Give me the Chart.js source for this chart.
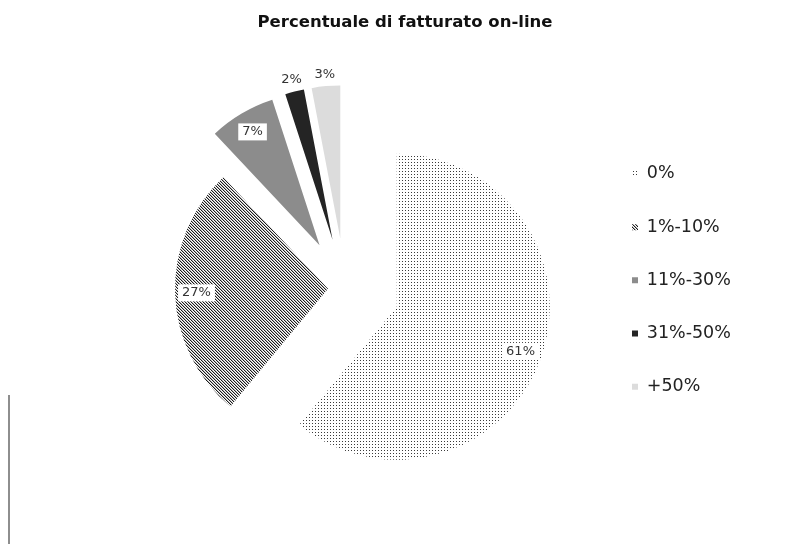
<!DOCTYPE html>
<html>
<head>
<meta charset="utf-8">
<title>Percentuale di fatturato on-line</title>
<script src="https://cdn.jsdelivr.net/npm/chart.js@4.4.1/dist/chart.umd.min.js"></script>
<style>
  html, body { margin: 0; padding: 0; background: #fff; }
  #wrap { position: relative; width: 795px; height: 544px; overflow: hidden; }
  #edge { position: absolute; left: 8px; top: 395px; bottom: 0; width: 2px; background: #8e8e8e; }
</style>
</head>
<body>
<div id="wrap">
  <canvas id="fatturato" width="795" height="544"></canvas>
  <div id="edge"></div>
</div>
<script>
// share of online turnover, by bracket
const categories = ['0%', '1%-10%', '11%-30%', '31%-50%', '+50%'];
const shares = [61, 27, 7, 2, 3];
// how far each slice is pulled out of the pie, px
const explode = [55, 17, 50, 50, 50];

const FONT = '"DejaVu Sans", "Liberation Sans", Arial, sans-serif';

const canvas = document.getElementById('fatturato');
const ctx = canvas.getContext('2d');

// small repeating tiles for the two textured slices
function makePattern(size, paint) {
    const tile = document.createElement('canvas');
    tile.width = tile.height = size;
    const g = tile.getContext('2d');
    g.fillStyle = '#ffffff';
    g.fillRect(0, 0, size, size);
    paint(g);
    return ctx.createPattern(tile, 'repeat');
}

const dots = makePattern(3, g => {
    g.fillStyle = '#3a3a3a';
    g.fillRect(0, 0, 1, 1);
});

const hatch = makePattern(3, g => {
    for (let i = 0; i < 3; i++) {
        g.fillStyle = '#1c1c1c';
        g.fillRect(i, i, 1, 1);
        g.fillStyle = '#b4b4b4';
        g.fillRect((i + 1) % 3, i, 1, 1);
    }
});

const sliceFills = [dots, hatch, '#8c8c8c', '#242424', '#dcdcdc'];

// push each arc outwards along its bisector
const explodeSlices = {
    id: 'explodeSlices',
    afterDatasetUpdate(chart, args) {
        args.meta.data.forEach((arc, i) => {
            const mid = (arc.startAngle + arc.endAngle) / 2;
            const d = explode[i] || 0;
            arc.x += Math.cos(mid) * d;
            arc.y += Math.sin(mid) * d;
        });
    }
};

// percentage labels: boxed inside big slices, plain above the thin ones
const sliceLabels = {
    id: 'sliceLabels',
    afterDatasetsDraw(chart) {
        const c = chart.ctx;
        const meta = chart.getDatasetMeta(0);
        c.save();
        c.font = '13px ' + FONT;
        c.textAlign = 'center';
        c.textBaseline = 'middle';
        meta.data.forEach((arc, i) => {
            const v = shares[i];
            const text = v + '%';
            const mid = (arc.startAngle + arc.endAngle) / 2;
            const inside = v >= 5;
            const r = inside ? arc.outerRadius * 0.86 : arc.outerRadius + 12;
            const x = arc.x + Math.cos(mid) * r;
            const y = arc.y + Math.sin(mid) * r;
            if (inside) {
                const w = c.measureText(text).width + 8;
                c.fillStyle = '#ffffff';
                c.fillRect(x - w / 2, y - 8.5, w, 17);
            }
            c.fillStyle = '#333333';
            c.fillText(text, x, y);
        });
        c.restore();
    }
};

// default pie legend items, with the text as a one-line array so that
// the font lineHeight sets the row pitch
function legendItems(chart) {
    const base = Chart.overrides.doughnut.plugins.legend.labels.generateLabels;
    return base.call(this, chart).map(item => Object.assign(item, { text: [item.text] }));
}

new Chart(ctx, {
    type: 'pie',
    data: {
        labels: categories,
        datasets: [{
            data: shares,
            backgroundColor: sliceFills,
            borderWidth: 0
        }]
    },
    options: {
        responsive: false,
        animation: false,
        events: [],
        radius: 153,
        layout: {
            padding: { left: 78, right: 63, top: 12.6, bottom: -9.6 }
        },
        plugins: {
            title: {
                display: true,
                text: 'Percentuale di fatturato on-line',
                color: '#111111',
                font: { family: FONT, size: 16.5, weight: 'bold', lineHeight: 1.2 },
                padding: 0
            },
            legend: {
                position: 'right',
                fullSize: false,
                maxWidth: 120,
                labels: {
                    boxWidth: 6,
                    boxHeight: 6,
                    padding: 20,
                    color: '#222222',
                    font: { family: FONT, size: 17.5, lineHeight: '33.2px' },
                    generateLabels: legendItems
                }
            },
            tooltip: { enabled: false }
        }
    },
    plugins: [explodeSlices, sliceLabels]
});
</script>
</body>
</html>
